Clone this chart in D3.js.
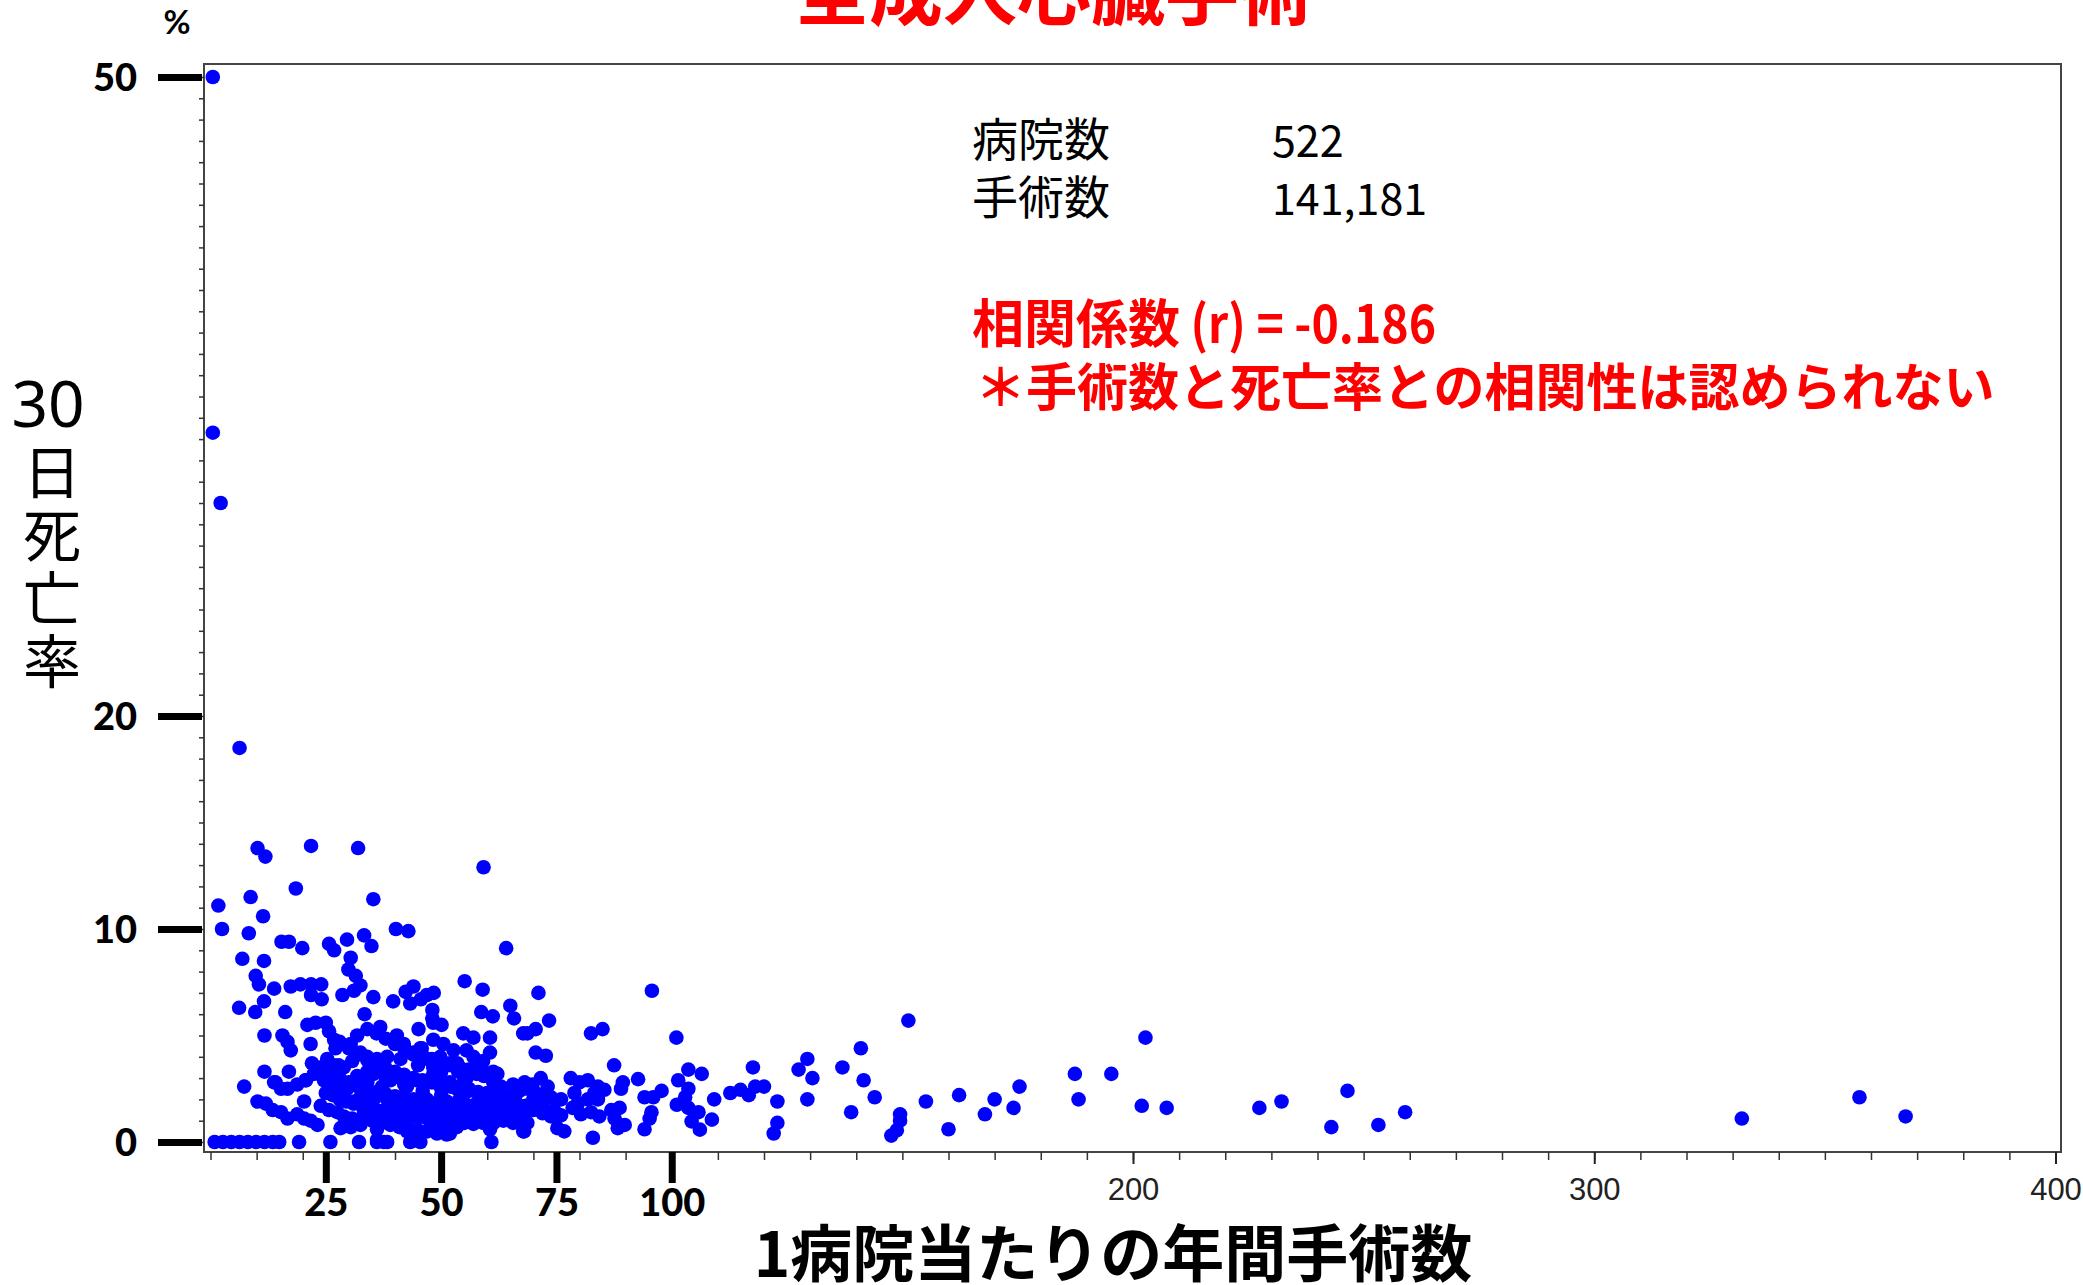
<!DOCTYPE html>
<html>
<head>
<meta charset="utf-8">
<script src="https://cdn.jsdelivr.net/npm/d3@7"></script>
<style>
  html, body { margin: 0; padding: 0; background: #ffffff; }
  svg { display: block; }
</style>
</head>
<body>
<script>
// ---------- DATA ----------
const titleText = "全成人心臓手術";
const yTitleNum = "30";
const yTitleChars = ["日", "死", "亡", "率"];
const xTitle = "1病院当たりの年間手術数";
const yUnit = "%";
const yMajorTicks = [0, 10, 20, 50];
const xBoldTicks = [25, 50, 75, 100];
const xThinTicks = [200, 300, 400];
const infoLabels = ["病院数", "手術数"];
const infoValues = ["522", "141,181"];
const corrHead = "相関係数";
const corrValue = " (r) = -0.186";
const corrNote = "＊手術数と死亡率との相関性は認められない";

// [annual cases per hospital, 30-day mortality %]
const pointsHigh = [
  [0.5,50],[0.5,33.3],[2.2,30],[6.3,18.5],
  [10.2,13.8],[11.9,13.4],[21.8,13.9],[32,13.8],[59.2,12.9],[18.5,11.9],[1.7,11.1],[8.7,11.5],
  [35.3,11.4],[11.4,10.6],[2.5,10.0],[8.3,9.8],[40.2,10.0],[42.9,9.9],[64.1,9.1],[15.4,9.4],
  [17,9.4],[19.9,9.1],[25.7,9.3],[26.8,9.0],[29.6,9.5],[33.3,9.7],[34.9,9.2],[6.9,8.6],
  [11.6,8.5],[30.4,8.65],[29.9,8.1],[31.5,7.8],[32.5,7.35],[9.8,7.8],[10.5,7.4],[13.8,7.2],
  [17.4,7.3],[19.5,7.4],[21.8,7.4],[24,7.4],[21.8,6.9],[24.1,6.7],[11.6,6.6],[6.2,6.3],
  [9.7,6.1],[16.2,6.1],[28.6,6.9],[31.1,7.1],[35.3,6.8],[33.4,6.0],[39.6,6.6],[42.3,7.05],
  [44,7.3],[43.3,6.5],[45.6,6.7],[46.9,6.9],[48.4,7.0],[48.1,6.2],[48.1,5.8],[55.1,7.55],
  [59,7.15],[65,6.4],[71.1,7.0],[95.7,7.1],[58.7,6.1],[61.2,5.9],[65.8,5.8],[73.4,5.7]
];
const pointsCluster = [
  [11.7,5.0],[15.6,5.0],[16.7,4.7],[17.4,4.3],[21.7,4.6],[21,5.5],[22.8,5.6],[25,5.6],
  [25.7,5.2],[26.8,4.8],[27.1,4.4],[30.4,4.6],[31.8,5.0],[34,5.3],[36.8,5.4],[40.4,5.0],
  [41.9,4.6],[45.1,5.3],[45.8,4.4],[48.3,5.6],[50.1,5.5],[48.3,4.8],[50.5,4.6],[52.7,4.3],
  [54.8,5.1],[57,4.9],[60.6,4.9],[67.8,5.1],[25.3,3.9],[26.8,3.6],[28.9,3.5],[30.7,3.8],
  [32.5,4.2],[34,4.0],[36.1,3.9],[38.3,4.0],[41.2,3.9],[44,4.1],[45.5,4.4],[46.9,3.9],
  [48.3,3.5],[49.8,4.0],[51.9,3.7],[53.7,3.3],[55.5,4.3],[57,4.0],[59.1,3.8],[60.6,4.2],
  [61.3,3.3],[11.7,3.3],[17,3.3],[7.3,2.6],[13.8,2.8],[15.3,2.5],[16.7,2.5],[18.8,2.7],
  [20.6,2.9],[22.4,3.2],[23.5,3.3],[24.6,2.9],[26.4,2.8],[28.2,2.5],[29.6,2.5],[31.8,3.1],
  [34,2.8],[35.4,3.2],[37.2,2.6],[39,2.9],[41.2,3.0],[42.6,2.6],[44.7,2.9],[46.9,2.8],
  [48.3,3.2],[49.8,2.6],[51.9,2.8],[53.4,2.5],[55.5,3.0],[57.7,3.2],[59.9,3.2],[61.3,2.8],
  [65.6,2.7],[68.1,2.8],[10.2,1.9],[12,1.8],[13.5,1.5],[15.3,1.4],[16.7,1.1],[20.3,1.9],
  [18.8,1.3],[20.3,1.1],[21.7,1.0],[23.2,0.8],[23.9,1.7],[25.7,1.5],[27.5,1.4],[28.9,1.2],
  [30.7,1.1],[28.9,2.1],[31.1,1.9],[32.5,2.1],[34,1.8],[35.4,2.0],[36.8,2.3],[38.3,2.0],
  [39.7,1.7],[41.2,2.1],[42.6,1.75],[44,2.0],[45.5,1.6],[46.9,2.0],[48.3,1.8],[49.8,1.5],
  [51.2,1.9],[52.7,1.7],[54.1,1.4],[55.5,1.75],[57,1.5],[58.8,2.0],[60.6,1.8],[62,1.5],
  [63.5,1.75],[64.9,2.0],[67,1.7],[66.3,1.4],[28.2,0.65],[30.4,0.7],[32.5,0.8],[36.1,0.6],
  [36.1,0.1],[38.3,0.0],[38.3,1.05],[40.4,1.2],[41.9,0.9],[42.6,0.5],[44.7,0.3],[48.3,0.9],
  [49.1,0.4],[51.2,0.35],[53.4,0.7],[55.5,1.1],[59.1,0.9],[60.6,0.6],[63.5,1.0],[65.6,0.9],
  [67.8,0.5],[53.5,3.7],[57.7,3.6],[59.3,3.1],[62.2,3.2],[56,2.5],[60.2,2.2],[61.4,0.9],
  [65.1,1.1],[68,0.8],[49.4,0.7],[51.9,0.4],[23.7,3.5],[27.8,3.6],[20.7,2.9],[14.1,2.8]
];
// the solid core of the cloud, read along its visible diagonal streaks
const pointsCore = [
  [25,2.3],[26.5,2.2],[28,2.0],[29.5,1.9],[31,1.8],[33,1.65],[35,1.55],[37,1.45],[39,1.35],
  [41,1.3],[43,1.2],[45,1.15],[47,1.1],[49,1.05],[51,1.0],[53,0.95],[55,0.9],[57,0.85],
  [22,3.7],[24,3.4],[26,3.2],[28,3.0],[30,2.8],[32,2.6],[34,2.45],[36,2.35],[38,2.25],
  [40,2.15],[42,2.05],[44,1.95],[46,1.85],[48,1.75],[50,1.7],[52,1.6],[54,1.55],[56,1.5],
  [58,1.45],[60,1.4],[62,1.35],[64,1.3],
  [28,4.7],[30,4.4],[32,4.1],[34,3.85],[36,3.65],[38,3.45],[40,3.3],[42,3.15],[44,3.0],
  [46,2.9],[48,2.8],[50,2.7],[52,2.6],[54,2.5],[56,2.4],[58,2.35],[60,2.3],[62,2.2],
  [64,2.15],[66,2.1],
  [36,5.1],[38,4.85],[40,4.6],[42,4.4],[44,4.2],[46,4.05],[48,3.9],[50,3.75],[52,3.6],
  [54,3.5],[56,3.4],[58,3.3],[60,3.2],
  [33,1.2],[35,1.0],[37,0.9],[39,0.8],[41,0.7],[43,0.65],[45,0.55],[47,0.5],[34,3.3],
  [38,3.0],[42,2.7],[46,2.4],[50,2.2],[54,2.0],[58,1.9],[62,1.8],[66,1.6],[70,1.5],
  [40,1.6],[44,1.5],[48,1.4],[52,1.3],[56,1.2],[60,1.1],[64,1.15],[68,1.2],[72,1.35],
  [76,1.25],[72,1.8],[76,2.0],[45,3.6],[50,3.3],[55,2.9],[63,2.6],[67,2.4],[70,2.0]
];
const pointsZero = [
  [0.9,0],[2.7,0],[4.5,0],[6.3,0],[8.1,0],[9.9,0],[11.7,0],[13.5,0],[14.9,0],[19.2,0],
  [26,0],[32.2,0],[36.1,0],[37.6,0],[43.3,0],[45.5,0],[60.9,0]
];
const pointsMid = [
  [68.7,5.1],[70.5,5.3],[82.5,5.1],[85,5.3],[101,4.9],[70.5,4.2],[72.7,4.05],[87.5,3.6],
  [101.4,2.9],[103.6,3.4],[106.5,3.2],[103.6,2.5],[102.9,2.1],[101.1,1.75],[103.6,1.6],[105.8,1.4],
  [104.3,0.97],[106.1,0.58],[109.2,2.0],[108.7,1.05],[112.7,2.3],[114.9,2.45],[116.7,2.2],[117.6,3.5],
  [118.1,2.6],[120,2.6],[122.9,1.9],[122.9,0.9],[122.1,0.4],[127.5,3.4],[129.4,3.9],[130.5,3.0],
  [129.4,2.0],[137,3.5],[138.9,1.4],[69.8,2.7],[71.6,3.0],[73.1,2.6],[70.5,2.3],[68.7,2.5],
  [71.6,2.1],[73.8,2.1],[68.3,1.7],[68.7,0.9],[68,0.5],[74.5,1.5],[73.8,1.2],[75.2,0.65],
  [76.7,0.5],[78.1,3.0],[80,2.8],[81.8,2.9],[84,2.6],[85.4,2.45],[83.2,2.3],[78.9,2.3],
  [79.6,1.8],[78.5,1.6],[81.8,2.0],[84,2.0],[82.5,1.4],[84.3,1.2],[80.3,1.3],[82.9,0.2],
  [86.9,1.5],[88.7,1.6],[87.6,1.1],[89,0.8],[88.3,0.65],[89.8,0.8],[89.4,2.8],[89,2.5],
  [92.7,2.95],[94.1,2.1],[96,2.1],[97.8,2.4],[95.6,1.4],[95.2,1.1],[94.1,0.6]
];
const pointsTail = [
  [141,4.4],[141.6,2.9],[144,2.1],[151.3,5.7],[149.5,1.3],[149.5,1.0],[148.8,0.55],[147.6,0.3],
  [155.1,1.9],[162.3,2.2],[160,0.6],[167.9,1.3],[170,2.0],[174.1,1.6],[175.4,2.6],[187.4,3.2],
  [188.2,2.0],[195.3,3.2],[202.7,4.9],[201.9,1.7],[207.3,1.6],[227.4,1.6],[232.2,1.9],[243,0.7],
  [246.5,2.4],[253.2,0.8],[259,1.4],[332,1.1],[357.5,2.1],[367.5,1.2]
];

// ---------- DRAWING ----------
const W = 2083, H = 1285;
const frame = { left: 204, right: 2061, top: 64, bottom: 1152 };
const jp = "'Noto Sans CJK JP', 'Noto Sans', sans-serif";
const numBold = "Lato, 'Open Sans', sans-serif";

const svg = d3.select("body").append("svg").attr("width", W).attr("height", H);

const x = d3.scaleLinear().domain([0, 400]).range([210.5, 2055.5]);
const y = d3.scaleLinear().domain([0, 50]).range([1142, 77]);

// title (clipped at top as in the reference)
svg.append("text").attr("x", 1054).attr("y", -14)
  .attr("text-anchor", "middle").attr("dominant-baseline", "central")
  .attr("font-family", jp).attr("font-weight", 700).attr("font-size", 74)
  .attr("fill", "#ff0000").text(titleText);

// frame
svg.append("rect").attr("x", frame.left).attr("y", frame.top)
  .attr("width", frame.right - frame.left).attr("height", frame.bottom - frame.top)
  .attr("fill", "none").attr("stroke", "#444").attr("stroke-width", 2);

// y minor ticks
const yMinor = svg.append("g").attr("transform", `translate(${frame.left},0)`)
  .call(d3.axisLeft(y).tickValues(d3.range(0, 51)).tickSize(5).tickFormat(""));
yMinor.select(".domain").remove();
yMinor.selectAll("line").attr("stroke", "#333").attr("stroke-width", 1.5);

// y major ticks
const yMajor = svg.append("g").attr("transform", `translate(202,0)`)
  .call(d3.axisLeft(y).tickValues(yMajorTicks).tickSize(44).tickPadding(21).tickFormat(d3.format("d")));
yMajor.select(".domain").remove();
yMajor.selectAll("line").attr("stroke", "#000").attr("stroke-width", 7);
yMajor.selectAll("text").attr("font-family", numBold).attr("font-weight", 900)
  .attr("font-size", 38).attr("fill", "#000").attr("dy", "0.36em");

// % unit
svg.append("text").attr("x", 177).attr("y", 34).attr("text-anchor", "middle")
  .attr("font-family", numBold).attr("font-weight", 700).attr("font-size", 33).text(yUnit);

// x minor ticks
const xMinor = svg.append("g").attr("transform", `translate(0,${frame.bottom})`)
  .call(d3.axisBottom(x).tickValues(d3.range(0, 401, 10)).tickSize(8).tickFormat(""));
xMinor.select(".domain").remove();
xMinor.selectAll("line").attr("stroke", "#333").attr("stroke-width", 1.5);

// x thin major ticks
const xThin = svg.append("g").attr("transform", `translate(0,${frame.bottom})`)
  .call(d3.axisBottom(x).tickValues(xThinTicks).tickSize(12).tickPadding(14).tickFormat(d3.format("d")));
xThin.select(".domain").remove();
xThin.selectAll("line").attr("stroke", "#222").attr("stroke-width", 2);
xThin.selectAll("text").attr("font-family", "'Liberation Sans Narrow', 'Liberation Sans', sans-serif")
  .attr("font-size", 31).attr("fill", "#222");

// x bold ticks
const xBold = svg.append("g").attr("transform", `translate(0,${frame.bottom})`)
  .call(d3.axisBottom(x).tickValues(xBoldTicks).tickSize(31).tickPadding(6).tickFormat(d3.format("d")));
xBold.select(".domain").remove();
xBold.selectAll("line").attr("stroke", "#000").attr("stroke-width", 7);
xBold.selectAll("text").attr("font-family", numBold).attr("font-weight", 900)
  .attr("font-size", 38).attr("fill", "#000");

// axis titles
svg.append("text").attr("x", 1113).attr("y", 1250)
  .attr("text-anchor", "middle").attr("dominant-baseline", "central")
  .attr("font-family", jp).attr("font-weight", 700).attr("font-size", 62)
  .attr("fill", "#000").text(xTitle);

const yt = svg.append("text").attr("text-anchor", "middle").attr("fill", "#000");
yt.append("tspan").attr("x", 48).attr("y", 427)
  .attr("font-family", "'Noto Sans', 'DejaVu Sans', sans-serif").attr("font-size", 64).text(yTitleNum);
yTitleChars.forEach((c, i) => {
  yt.append("tspan").attr("x", 52).attr("y", 494 + i * 63)
    .attr("font-family", jp).attr("font-size", 58).text(c);
});

// info block
svg.append("g").selectAll("text").data(infoLabels).join("text")
  .attr("x", 972).attr("y", (d, i) => 136 + i * 58).attr("dominant-baseline", "central")
  .attr("font-family", jp).attr("font-size", 46).attr("fill", "#000").text(d => d);
svg.append("g").selectAll("text").data(infoValues).join("text")
  .attr("x", 1272).attr("y", (d, i) => 138 + i * 58).attr("dominant-baseline", "central")
  .attr("font-family", jp).attr("font-size", 43).attr("fill", "#000").text(d => d);

const c1 = svg.append("text").attr("x", 972).attr("y", 320).attr("dominant-baseline", "central")
  .attr("font-family", jp).attr("font-weight", 700).attr("font-size", 52).attr("fill", "#ff0000");
c1.append("tspan").text(corrHead);
c1.append("tspan").attr("textLength", 256).attr("lengthAdjust", "spacingAndGlyphs").text(corrValue);

svg.append("text").attr("x", 975).attr("y", 384).attr("dominant-baseline", "central")
  .attr("font-family", jp).attr("font-weight", 700).attr("font-size", 51)
  .attr("fill", "#ff0000").text(corrNote);

// points
const allPoints = [].concat(pointsZero, pointsCluster, pointsCore, pointsMid, pointsTail, pointsHigh);
svg.append("g").selectAll("circle").data(allPoints).join("circle")
  .attr("cx", d => x(d[0])).attr("cy", d => y(d[1])).attr("r", 7.3)
  .attr("fill", "#0000ff");
</script>
</body>
</html>
